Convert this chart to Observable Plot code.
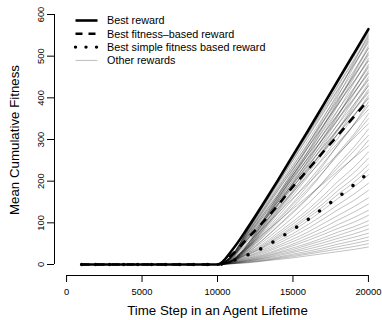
<!DOCTYPE html>
<html>
<head>
<meta charset="utf-8">
<script src="https://cdn.jsdelivr.net/npm/d3@7"></script>
<script src="https://cdn.jsdelivr.net/npm/@observablehq/plot@0.6"></script>
<style>
  body { margin: 0; background: #fff; }
  #wrap { position: relative; width: 382px; height: 320px; font-family: "Liberation Sans", Arial, Helvetica, sans-serif; }
  #legend { position: absolute; left: 0; top: 0; }
</style>
</head>
<body>
<div id="wrap"></div>
<script>
// ---- data ----
const steps = [1000,2000,3000,4000,5000,6000,7000,8000,9000,10000,
               11000,12000,13000,14000,15000,16000,17000,18000,19000,20000];
// all curves are flat at 0 for steps 1000..10000
const flatValue = 0;
// values for steps 11000..20000
const bestReward        = [36, 88, 144, 202, 262, 321, 382, 443, 504, 565];
const bestFitnessBased  = [25, 63, 101, 142, 187, 228, 270, 311, 353, 395];
const bestSimpleFitness = [9, 23, 40, 61, 84, 108, 135, 162, 190, 220];
const otherRewards = [
  [25, 84, 144, 203, 263, 322, 381, 441, 501, 560],
  [24, 83, 143, 202, 261, 320, 379, 438, 497, 556],
  [11, 50, 105, 166, 226, 287, 351, 414, 483, 552],
  [24, 82, 141, 199, 257, 315, 373, 432, 490, 548],
  [24, 82, 140, 197, 255, 313, 370, 429, 486, 544],
  [11, 49, 103, 162, 221, 281, 343, 405, 473, 540],
  [24, 80, 138, 195, 251, 308, 365, 422, 479, 536],
  [23, 80, 137, 193, 250, 306, 362, 419, 476, 532],
  [11, 47, 100, 158, 215, 273, 333, 394, 459, 525],
  [10, 47, 99, 156, 213, 270, 330, 390, 455, 520],
  [23, 78, 133, 188, 243, 298, 353, 408, 463, 518],
  [10, 46, 97, 153, 209, 265, 324, 383, 446, 510],
  [22, 76, 130, 184, 237, 291, 345, 399, 452, 506],
  [22, 75, 129, 182, 235, 289, 342, 396, 449, 502],
  [10, 45, 94, 149, 203, 257, 314, 371, 433, 495],
  [22, 74, 126, 178, 230, 282, 334, 386, 438, 490],
  [21, 73, 125, 177, 229, 281, 332, 385, 436, 488],
  [10, 43, 91, 144, 197, 250, 305, 360, 420, 480],
  [10, 43, 90, 143, 195, 248, 302, 357, 417, 476],
  [21, 71, 121, 171, 221, 271, 321, 372, 422, 472],
  [9, 42, 88, 140, 191, 242, 295, 349, 407, 465],
  [20, 69, 118, 167, 216, 265, 313, 362, 411, 460],
  [20, 69, 118, 166, 215, 263, 312, 361, 409, 458],
  [9, 41, 86, 135, 185, 234, 286, 338, 394, 450],
  [20, 67, 114, 162, 209, 256, 303, 351, 398, 445],
  [19, 66, 114, 160, 207, 254, 301, 348, 395, 442],
  [9, 39, 83, 131, 178, 226, 276, 326, 381, 435],
  [9, 39, 82, 129, 176, 224, 273, 323, 376, 430],
  [19, 64, 110, 155, 201, 246, 291, 337, 383, 428],
  [8, 38, 80, 126, 172, 218, 267, 315, 368, 420],
  [18, 62, 107, 151, 195, 239, 283, 327, 371, 415],
  [18, 62, 106, 150, 193, 237, 281, 325, 368, 412],
  [8, 36, 77, 122, 166, 211, 257, 304, 354, 405],
  [18, 60, 103, 145, 188, 230, 272, 315, 358, 400],
  [18, 60, 102, 144, 187, 229, 271, 314, 356, 398],
  [16, 41, 70, 109, 148, 191, 238, 289, 335, 390],
  [8, 34, 73, 115, 157, 199, 243, 287, 334, 382],
  [16, 56, 96, 135, 174, 214, 253, 293, 333, 372],
  [14, 38, 65, 101, 138, 177, 221, 268, 311, 362],
  [7, 32, 67, 105, 144, 182, 222, 263, 306, 350],
  [15, 51, 87, 123, 159, 194, 230, 266, 302, 338],
  [13, 34, 59, 91, 124, 159, 198, 241, 280, 325],
  [6, 28, 59, 93, 127, 161, 197, 233, 271, 310],
  [12, 31, 54, 83, 113, 146, 182, 221, 256, 298],
  [13, 43, 73, 103, 134, 164, 194, 225, 255, 285],
  [11, 28, 49, 76, 103, 132, 165, 200, 232, 270],
  [10, 27, 46, 71, 97, 125, 156, 189, 219, 255],
  [10, 25, 43, 67, 91, 118, 146, 178, 206, 240],
  [9, 24, 41, 64, 87, 112, 139, 169, 196, 228],
  [9, 23, 39, 60, 82, 105, 131, 159, 185, 215],
  [8, 20, 35, 55, 74, 96, 119, 144, 168, 195],
  [7, 19, 32, 50, 68, 87, 109, 132, 153, 178],
  [6, 17, 29, 45, 61, 78, 98, 118, 138, 160],
  [6, 15, 26, 41, 55, 71, 88, 107, 125, 145],
  [5, 14, 23, 36, 49, 64, 79, 96, 112, 130],
  [5, 12, 21, 33, 45, 58, 72, 87, 101, 118],
  [4, 11, 19, 29, 40, 51, 64, 78, 90, 105],
  [4, 10, 17, 27, 36, 47, 58, 70, 82, 95],
  [3, 9, 15, 24, 32, 42, 52, 63, 73, 85],
  [3, 8, 14, 21, 29, 37, 46, 56, 65, 75],
  [3, 7, 12, 18, 25, 32, 40, 49, 57, 66],
  [2, 6, 10, 16, 22, 28, 35, 43, 50, 58],
  [2, 5, 9, 14, 19, 25, 31, 37, 43, 50],
  [2, 4, 8, 12, 16, 21, 26, 31, 36, 42]
];
const xTicks = [0, 5000, 10000, 15000, 20000];
const yTicks = [0, 100, 200, 300, 400, 500, 600];
const legendLabels = ["Best reward", "Best fitness\u2013based reward", "Best simple fitness based reward", "Other rewards"];
const xTitle = "Time Step in an Agent Lifetime";
const yTitle = "Mean Cumulative Fitness";

// ---- build rows ----
const flatCount = steps.length - bestReward.length;
function rows(vals, id) {
  return steps.map((s, i) => ({step: s, value: i < flatCount ? flatValue : vals[i - flatCount], id}));
}
const grayRows = otherRewards.flatMap((v, k) => rows(v, k));

const xDomain = [-800, 20800];
const yDomain = [-26.4, 624];
const font = "'Liberation Sans', Arial, Helvetica, sans-serif";

const chart = Plot.plot({
  width: 382,
  height: 320,
  marginLeft: 54,
  marginRight: 2,
  marginTop: 4,
  marginBottom: 45,
  style: {fontFamily: font, background: "white", color: "black"},
  x: {domain: xDomain, axis: null},
  y: {domain: yDomain, axis: null},
  marks: [
    Plot.line(grayRows, {x: "step", y: "value", z: "id", stroke: "#000", strokeOpacity: 0.26, strokeWidth: 0.95, curve: "monotone-x"}),
    Plot.line(rows(bestSimpleFitness), {x: "step", y: "value", stroke: "#000", strokeWidth: 3.6, strokeDasharray: "0,14", strokeLinecap: "round", curve: "monotone-x"}),
    Plot.line(rows(bestFitnessBased), {x: "step", y: "value", stroke: "#000", strokeWidth: 2.6, strokeDasharray: "8,7", strokeLinecap: "butt", curve: "monotone-x"}),
    Plot.line(rows(bestReward), {x: "step", y: "value", stroke: "#000", strokeWidth: 2.6, curve: "monotone-x"}),
    // axes (R style, detached)
    Plot.ruleX([xDomain[0]], {y1: yTicks[0], y2: yTicks[yTicks.length - 1], stroke: "#000", strokeWidth: 1}),
    Plot.ruleY([yDomain[0]], {x1: xTicks[0], x2: xTicks[xTicks.length - 1], stroke: "#000", strokeWidth: 1}),
    Plot.axisX({ticks: xTicks, tickSize: 7, tickPadding: 6, fontSize: 9.4, tickFormat: d => String(d), label: null, stroke: "#000"}),
    Plot.axisY({ticks: yTicks, tickSize: 7, tickFormat: () => "", label: null, stroke: "#000"}),
    Plot.text(yTicks, {x: xDomain[0], y: d => d, text: d => String(d), rotate: -90, dx: -14, fontSize: 9.4, textAnchor: "middle", lineAnchor: "middle", fill: "#000"}),
    Plot.text([xTitle], {frameAnchor: "bottom", dy: 35, fontSize: 13.3, textAnchor: "middle", lineAnchor: "middle", fill: "#000"}),
    Plot.text([yTitle], {frameAnchor: "left", dx: -40, rotate: -90, fontSize: 13.3, textAnchor: "middle", lineAnchor: "middle", fill: "#000"})
  ]
});

const wrap = document.getElementById("wrap");
wrap.appendChild(chart);

// ---- legend overlay ----
const ns = "http://www.w3.org/2000/svg";
const leg = document.createElementNS(ns, "svg");
leg.setAttribute("id", "legend");
leg.setAttribute("width", 382);
leg.setAttribute("height", 80);
const legStyles = [
  {stroke: "#000", width: 2.6, dash: null, cap: "butt"},
  {stroke: "#000", width: 2.6, dash: "7,6", cap: "butt"},
  {stroke: "#000", width: 3.4, dash: "0,10.5", cap: "round"},
  {stroke: "#bbb", width: 1, dash: null, cap: "butt"}
];
legendLabels.forEach((lab, i) => {
  const cy = 20.5 + i * 13.3;
  const ln = document.createElementNS(ns, "line");
  ln.setAttribute("x1", 75.5); ln.setAttribute("x2", 97.5);
  ln.setAttribute("y1", cy); ln.setAttribute("y2", cy);
  ln.setAttribute("stroke", legStyles[i].stroke);
  ln.setAttribute("stroke-width", legStyles[i].width);
  ln.setAttribute("stroke-linecap", legStyles[i].cap);
  if (legStyles[i].dash) ln.setAttribute("stroke-dasharray", legStyles[i].dash);
  leg.appendChild(ln);
  const t = document.createElementNS(ns, "text");
  t.setAttribute("x", 107);
  t.setAttribute("y", cy);
  t.setAttribute("dy", "0.35em");
  t.setAttribute("font-size", 10.8);
  t.setAttribute("font-family", font);
  t.textContent = lab;
  leg.appendChild(t);
});
wrap.appendChild(leg);
</script>
</body>
</html>
